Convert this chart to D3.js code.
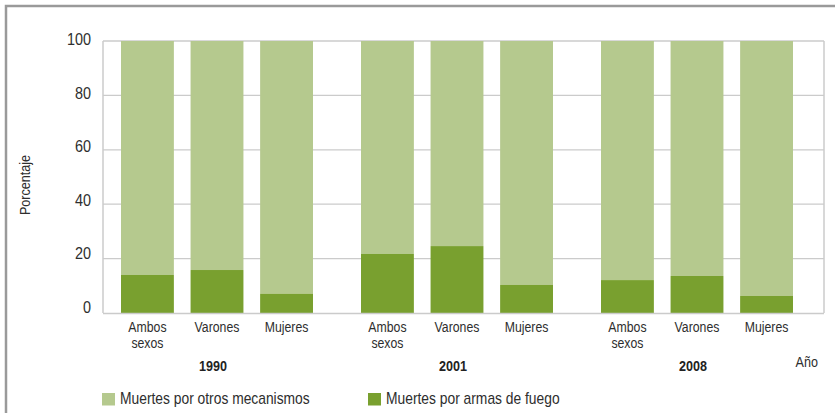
<!DOCTYPE html>
<html><head><meta charset="utf-8">
<script src="https://cdn.jsdelivr.net/npm/d3@7"></script>
<style>
html,body{margin:0;padding:0;background:#fff;}
svg{display:block;}
text{font-family:"Liberation Sans",Arial,sans-serif;fill:#2e2e2e;}
</style></head><body>
<svg id="c" width="835" height="413"></svg>
<script>
const years = ["1990","2001","2008"];
const groups = ["Ambos sexos","Varones","Mujeres"];
const groupLines = [["Ambos","sexos"],["Varones"],["Mujeres"]];
// Muertes por armas de fuego (%)
const firearms = {
  "1990": [14.0, 15.8, 7.1],
  "2001": [21.7, 24.6, 10.3],
  "2008": [12.1, 13.6, 6.3]
};
const total = 100;
const yTicks = [0,20,40,60,80,100];
const seriesNames = ["Muertes por otros mecanismos","Muertes por armas de fuego"];
const colors = ["#b5c98e","#79a02f"];

const svg = d3.select("#c");
// condensed text helper
function ctext(parent, x, yy, str, size, sx, anchor, extra){
  const t = parent.append("text")
    .attr("transform",`translate(${x},${yy}) scale(${sx},1)`)
    .attr("font-size",size).attr("text-anchor",anchor||"start").text(str);
  if (extra) extra(t);
  return t;
}
// outer frame
svg.append("rect").attr("x",6).attr("y",6).attr("width",900).attr("height",500)
  .attr("fill","none").attr("stroke","#9a9a9a").attr("stroke-width",2.5);

const pL = 103, pR = 824, pT = 41, pB = 313;
const y = d3.scaleLinear().domain([0,100]).range([pB, pT]);
const yLab = d3.scaleLinear().domain([0,100]).range([307, 39]);
const x0 = d3.scaleBand().domain(years).range([pL, pL+720]).paddingInner(0).paddingOuter(0);
const x1 = d3.scaleBand().domain(groups).range([18, 210]).paddingInner(0.24).paddingOuter(0);

// gridlines
svg.append("g").selectAll("line").data(yTicks.filter(d=>d>0)).join("line")
  .attr("x1",pL).attr("x2",pR).attr("y1",d=>y(d)).attr("y2",d=>y(d))
  .attr("stroke","#cbcbcb").attr("stroke-width",1.3);

// bars
const data = [];
years.forEach(yr => groups.forEach((g,i) => {
  data.push({yr, g, i, fire: firearms[yr][i], other: total - firearms[yr][i]});
}));
const gb = svg.append("g");
gb.selectAll("rect.o").data(data).join("rect").attr("class","o")
  .attr("x",d=>x0(d.yr)+x1(d.g)).attr("width",x1.bandwidth())
  .attr("y",d=>y(d.fire+d.other)).attr("height",d=>y(d.fire)-y(d.fire+d.other))
  .attr("fill",colors[0]);
gb.selectAll("rect.f").data(data).join("rect").attr("class","f")
  .attr("x",d=>x0(d.yr)+x1(d.g)).attr("width",x1.bandwidth())
  .attr("y",d=>y(d.fire)).attr("height",d=>y(0)-y(d.fire)+1)
  .attr("fill",colors[1]);

// axis frame lines
svg.append("line").attr("x1",pL).attr("x2",pL).attr("y1",pT).attr("y2",pB)
  .attr("stroke","#cbcbcb").attr("stroke-width",1.5);
svg.append("line").attr("x1",pR).attr("x2",pR).attr("y1",pT).attr("y2",pB)
  .attr("stroke","#cbcbcb").attr("stroke-width",1.5);
svg.append("line").attr("x1",pL).attr("x2",pR).attr("y1",pB+0.5).attr("y2",pB+0.5)
  .attr("stroke","#cbcbcb").attr("stroke-width",1.5);

// y tick labels
const yl = svg.append("g");
yTicks.forEach(v => ctext(yl, 91, yLab(v)+6, v, 16, 0.9, "end"));

// y title
svg.append("text").attr("transform","translate(30,185) rotate(-90) scale(0.84,1)")
  .attr("text-anchor","middle").attr("font-size",15).text("Porcentaje");

// category labels
const cl = svg.append("g");
years.forEach(yr => groups.forEach((g,i) => {
  const cx = x0(yr)+x1(g)+x1.bandwidth()/2;
  groupLines[i].forEach((ln,k) => ctext(cl, cx, 332 + k*15.5, ln, 15, 0.82, "middle"));
}));
// year labels
const ylbl = svg.append("g");
years.forEach(yr => ctext(ylbl, x0(yr)+x1("Varones")+x1.bandwidth()/2 - 4, 371, yr, 15, 0.84, "middle",
  t => t.attr("font-weight","bold").style("fill","#222")));
ctext(svg, 818, 367, "Año", 15, 0.84, "end");

// legend
const legX = [102, 368];
const lg = svg.append("g").selectAll("g").data(seriesNames).join("g")
  .attr("transform",(d,i)=>`translate(${legX[i]},393)`);
lg.append("rect").attr("width",13).attr("height",12.5).attr("fill",(d,i)=>colors[i]);
lg.each(function(d){ ctext(d3.select(this), 18, 11, d, 16, 0.865, "start"); });
</script>
</body></html>
